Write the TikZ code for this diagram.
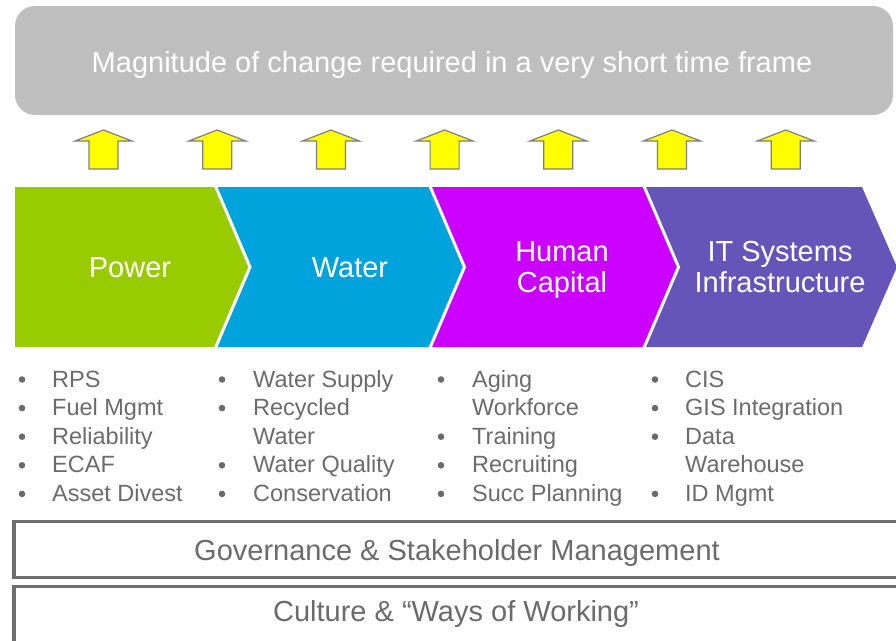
\documentclass[tikz,border=0pt]{standalone}
\usepackage{fontspec}
\setmainfont{Liberation Sans}
\definecolor{topgray}{HTML}{BFBFBF}
\definecolor{cgreen}{HTML}{99CC00}
\definecolor{cblue}{HTML}{00A3DC}
\definecolor{cmag}{HTML}{CC00FF}
\definecolor{cpurp}{HTML}{6655B8}
\definecolor{txtgray}{HTML}{6B6B6B}
\definecolor{boxgray}{HTML}{6E6E6E}
\definecolor{arrgray}{HTML}{7F7F7F}
\definecolor{arryel}{HTML}{FFFF00}
\begin{document}
\begin{tikzpicture}[x=1pt,y=-1pt,
  bigtxt/.style={font=\fontsize{29}{32}\selectfont, inner sep=0pt, anchor=base},
  whitetxt/.style={bigtxt, text=white},
  graytxt/.style={bigtxt, text=txtgray},
  bultxt/.style={font=\fontsize{23.5}{28}\selectfont, text=txtgray, inner sep=0pt, anchor=base west},
  buldot/.style={fill=txtgray},
  uparrow/.style={fill=arryel, draw=arrgray, line width=1.2pt, line join=miter},
  sep/.style={draw=white, line width=3pt},
  framebox/.style={draw=boxgray, line width=3.5pt, fill=white}]
\useasboundingbox (0,0) rectangle (896,640);
\clip (0,0) rectangle (896,640);
% top banner
\fill[topgray, rounded corners=20pt] (15,6) rectangle (893,115);
\node[whitetxt] (top) at (452,72) {Magnitude of change required in a very short time frame};
% arrows
\foreach \k in {0,...,6}{
  \pgfmathsetmacro{\cx}{103.5+113.7*\k}
  \draw[uparrow] (\cx-14.5,169) -- (\cx-14.5,141) -- (\cx-28.5,141) -- (\cx,130)
     -- (\cx+28.5,141) -- (\cx+14.5,141) -- (\cx+14.5,169) -- cycle;
}
% chevrons
\fill[cgreen] (15,187) -- (215,187) -- (250,267) -- (215,347) -- (15,347) -- cycle;
\fill[cblue] (215,187) -- (429.5,187) -- (464.5,267) -- (429.5,347) -- (215,347) -- (250,267) -- cycle;
\fill[cmag] (429.5,187) -- (643.5,187) -- (678.5,267) -- (643.5,347) -- (429.5,347) -- (464.5,267) -- cycle;
\fill[cpurp] (643.5,187) -- (862,187) -- (897,267) -- (862,347) -- (643.5,347) -- (678.5,267) -- cycle;
\draw[sep] (215,185) -- (250,267) -- (215,349);
\draw[sep] (429.5,185) -- (464.5,267) -- (429.5,349);
\draw[sep] (643.5,185) -- (678.5,267) -- (643.5,349);
\node[whitetxt] (power) at (130,277) {Power};
\node[whitetxt] (water) at (350,277) {Water};
\node[whitetxt] (hc1) at (562,261) {Human};
\node[whitetxt] (hc2) at (562,292.5) {Capital};
\node[whitetxt] (it1) at (780,261) {IT Systems};
\node[whitetxt] (it2) at (780,292.5) {Infrastructure};
% bullet lists
\def\ya{387}\def\yb{415.6}\def\yc{444.2}\def\yd{472.8}\def\ye{501.4}
\foreach \y in {\ya,\yb,\yc,\yd,\ye}{\fill[buldot] (22,\y-7.5) circle (3.3pt);}
\node[bultxt] (p1) at (52,\ya) {RPS};
\node[bultxt] (p2) at (52,\yb) {Fuel Mgmt};
\node[bultxt] (p3) at (52,\yc) {Reliability};
\node[bultxt] (p4) at (52,\yd) {ECAF};
\node[bultxt] (p5) at (52,\ye) {Asset Divest};
\foreach \y in {\ya,\yb,\yd,\ye}{\fill[buldot] (222,\y-7.5) circle (3.3pt);}
\node[bultxt] (w1) at (253,\ya) {Water Supply};
\node[bultxt] (w2) at (253,\yb) {Recycled};
\node[bultxt] (w3) at (253,\yc) {Water};
\node[bultxt] (w4) at (253,\yd) {Water Quality};
\node[bultxt] (w5) at (253,\ye) {Conservation};
\foreach \y in {\ya,\yc,\yd,\ye}{\fill[buldot] (441,\y-7.5) circle (3.3pt);}
\node[bultxt] (h1) at (472,\ya) {Aging};
\node[bultxt] (h2) at (472,\yb) {Workforce};
\node[bultxt] (h3) at (472,\yc) {Training};
\node[bultxt] (h4) at (472,\yd) {Recruiting};
\node[bultxt] (h5) at (472,\ye) {Succ Planning};
\foreach \y in {\ya,\yb,\yc,\ye}{\fill[buldot] (655,\y-7.5) circle (3.3pt);}
\node[bultxt] (i1) at (685,\ya) {CIS};
\node[bultxt] (i2) at (685,\yb) {GIS Integration};
\node[bultxt] (i3) at (685,\yc) {Data};
\node[bultxt] (i4) at (685,\yd) {Warehouse};
\node[bultxt] (i5) at (685,\ye) {ID Mgmt};
% bottom boxes
\draw[framebox] (14,521.5) rectangle (905,577.5);
\draw[framebox] (14,586.5) rectangle (905,660);
\node[graytxt] (gov) at (457,560) {Governance \& Stakeholder Management};
\node[graytxt] (cult) at (456,621) {Culture \& “Ways of Working”};
\end{tikzpicture}
\end{document}
